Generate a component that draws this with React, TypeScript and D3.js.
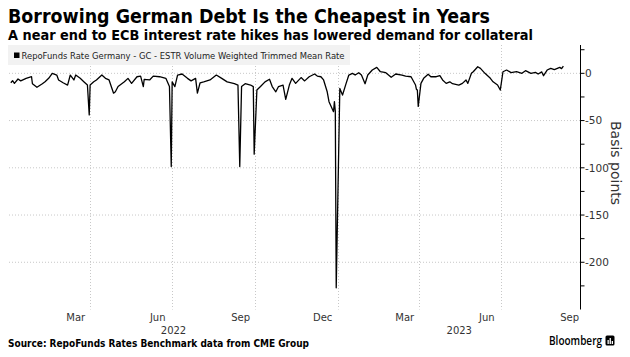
import React from 'react';
import * as d3 from 'd3';

const dates: string[] = [
  '2022-01-03','2022-01-05','2022-01-07','2022-01-11','2022-01-14','2022-01-20','2022-01-26','2022-01-27',
  '2022-02-01','2022-02-07','2022-02-10','2022-02-14','2022-02-18','2022-02-23','2022-02-25',
  '2022-03-02','2022-03-07','2022-03-10','2022-03-14','2022-03-16','2022-03-21','2022-03-25','2022-03-29','2022-03-31',
  '2022-04-01','2022-04-05','2022-04-08','2022-04-14','2022-04-18','2022-04-22','2022-04-27','2022-04-29',
  '2022-05-02','2022-05-09','2022-05-13','2022-05-17','2022-05-23','2022-05-27','2022-05-30','2022-05-31',
  '2022-06-06','2022-06-10','2022-06-17','2022-06-24','2022-06-28','2022-06-30',
  '2022-07-01','2022-07-04','2022-07-07','2022-07-12','2022-07-18','2022-07-22','2022-07-27','2022-07-29',
  '2022-08-01','2022-08-05','2022-08-12','2022-08-19','2022-08-25','2022-08-31',
  '2022-09-08','2022-09-12','2022-09-14','2022-09-16','2022-09-20','2022-09-26','2022-09-29','2022-09-30',
  '2022-10-03','2022-10-07','2022-10-12','2022-10-17','2022-10-20','2022-10-24','2022-10-27',
  '2022-11-01','2022-11-04','2022-11-08','2022-11-11','2022-11-15','2022-11-21','2022-11-25','2022-11-30',
  '2022-12-06','2022-12-09','2022-12-13','2022-12-16','2022-12-20','2022-12-22','2022-12-27','2022-12-28','2022-12-29','2022-12-30',
  '2023-01-03','2023-01-06','2023-01-10','2023-01-13','2023-01-17','2023-01-20','2023-01-24','2023-01-27','2023-01-31',
  '2023-02-03','2023-02-08','2023-02-13','2023-02-17','2023-02-23',
  '2023-03-01','2023-03-06','2023-03-13','2023-03-17','2023-03-23','2023-03-28','2023-03-29','2023-03-30','2023-03-31',
  '2023-04-03','2023-04-06','2023-04-11','2023-04-14','2023-04-20','2023-04-24','2023-04-27',
  '2023-05-01','2023-05-05','2023-05-08','2023-05-15','2023-05-19','2023-05-23','2023-05-25','2023-05-29','2023-05-31',
  '2023-06-05','2023-06-08','2023-06-13','2023-06-19','2023-06-22','2023-06-27','2023-06-30',
  '2023-07-03','2023-07-07','2023-07-12','2023-07-18','2023-07-24','2023-07-28',
  '2023-08-03','2023-08-08','2023-08-11','2023-08-15','2023-08-17','2023-08-21','2023-08-25','2023-08-29',
  '2023-09-04','2023-09-06','2023-09-08',
];

const values: number[] = [
  -10, -7.8, -10.6, -6, -8, -5.3, -3.6, -11,
  -14.8, -11, -8.9, -5.3, 0, -1.8, -7,
  -10, -12.4, -1.8, -7, -1.8, -5.3, -8.9, -12.4, -44,
  -12.4, -9, -7, -1.8, -5.3, -7, -21, -19.5,
  -14, -9, -5.3, -10.6, -3.6, -3, -14, -6.3,
  -7, -2.9, -3.6, -5.3, -14, -98.7,
  -9, -14, -1.8, -0.7, -5.3, -8, -5.3, -21,
  -10, -9, -7, -1.8, -5.3, -9,
  -11, -12.4, -98.7, -14, -11, -12.4, -14, -85.6,
  -17.7, -14, -9, -6.3, -14, -19.5, -14,
  -12.4, -27.5, -12.4, -5.3, -10.6, -4.5, -8, -3.6,
  -0.7, -2.9, -3.6, -7, -19.5, -30, -40.6, -30, -40, -227,
  -16, -23, -10.6, -1.8, 0, -1.8, 0.7, -1.8, -11,
  -1.8, 3.5, 6.3, 1.7, 0.7,
  -4.2, -0.7, -1.8, -2.9, -3.6, -12.4, -17, -17.7, -35,
  -10.6, -5.3, -1, -3.6, -3.6, -2.5, -7,
  -10.6, -9, -11, -12.4, -10.6, -7, -10.6, 0, 1.7,
  7, 5.3, 0, -5.3, -9, -12.4, -17.7,
  1.7, 3.5, 0.7, 1.7, 0, 2.8,
  0, 1, -0.7, 1.5, -2.5, 3.5, 5.3, 4,
  6.3, 5, 7.7,
];

const yMinorTicks: number[] = [25, 0, -25, -50, -75, -100, -125, -150, -175, -200, -225];
const yLabelTicks: number[] = [0, -50, -100, -150, -200];
const gridDates: string[] = ['2022-04-01', '2022-07-01', '2022-10-01', '2023-01-01', '2023-04-01', '2023-07-01'];
const monthLabelDates: string[] = ['2022-03-16', '2022-06-15', '2022-09-15', '2022-12-15', '2023-03-16', '2023-06-15', '2023-09-15'];
const monthLabels: string[] = ['Mar', 'Jun', 'Sep', 'Dec', 'Mar', 'Jun', 'Sep'];
const yearLabels: string[] = ['2022', '2023'];
const yearBounds: string[][] = [['2022-01-01', '2023-01-01'], ['2023-01-01', '2023-09-27']];

const title = 'Borrowing German Debt Is the Cheapest in Years';
const subtitle = 'A near end to ECB interest rate hikes has lowered demand for collateral';
const legendLabel = 'RepoFunds Rate Germany - GC - ESTR Volume Weighted Trimmed Mean Rate';
const source = 'Source: RepoFunds Rates Benchmark data from CME Group';

const parse = (s: string) => new Date(s + 'T00:00:00Z');

export default function App() {
  const W = 630, H = 357;
  const x = d3.scaleUtc().domain([parse('2022-01-01'), parse('2023-09-27')]).range([9, 580.5]);
  const y = d3.scaleLinear().domain([-250, 30]).range([309.5, 45]);
  const axisX = 580.5;
  const pts = dates.map((d, i) => ({ d: parse(d), v: values[i] }));
  const line = d3.line<{ d: Date; v: number }>().x(p => x(p.d)).y(p => y(p.v));
  const tickFont = "'DejaVu Sans', sans-serif";
  const txt = '#333';

  return (
    <svg width={W} height={H} style={{ position: 'absolute', left: 0, top: 0, background: '#fff' }}
      xmlns="http://www.w3.org/2000/svg">
      <rect x={0} y={0} width={W} height={H} fill="#fff" />
      <text x={8} y={23} fontFamily="'DejaVu Sans Condensed', 'DejaVu Sans', sans-serif" fontWeight="bold"
        fontSize={19.5} fill="#000" textLength={482} lengthAdjust="spacingAndGlyphs">{title}</text>
      <text x={8} y={40} fontFamily="'DejaVu Sans Condensed', 'DejaVu Sans', sans-serif" fontWeight="bold"
        fontSize={14.5} fill="#000" textLength={525} lengthAdjust="spacingAndGlyphs">{subtitle}</text>

      {/* gridlines */}
      {yLabelTicks.map(t => (
        <line key={'hg' + t} x1={9} x2={axisX} y1={y(t)} y2={y(t)} stroke="#c8c8c8" strokeWidth={1}
          strokeDasharray="1,2" />
      ))}
      {gridDates.map(g => (
        <line key={'vg' + g} x1={Math.round(x(parse(g))) + 0.5} x2={Math.round(x(parse(g))) + 0.5} y1={45} y2={309.5}
          stroke="#c8c8c8" strokeWidth={1} strokeDasharray="1,2" />
      ))}

      {/* legend */}
      <rect x={8} y={45} width={342} height={20} fill="#f2f2f2" />
      <rect x={14} y={52.5} width={5.5} height={5.5} fill="#000" />
      <text x={21.5} y={58.5} fontFamily={tickFont} fontSize={9} fill="#222" textLength={323}
        lengthAdjust="spacingAndGlyphs">{legendLabel}</text>

      {/* data line */}
      <path d={line(pts) || ''} fill="none" stroke="#000" strokeWidth={1.3} strokeLinejoin="round" />

      {/* y axis */}
      <line x1={axisX} x2={axisX} y1={45} y2={309.5} stroke="#000" strokeWidth={1} />
      {yMinorTicks.map(t => (
        <line key={'yt' + t} x1={axisX} x2={axisX + 4} y1={y(t)} y2={y(t)} stroke="#000" strokeWidth={1} />
      ))}
      {yLabelTicks.map(t => (
        <text key={'yl' + t} x={axisX + 4.5} y={y(t) + 3.8} fontFamily={tickFont} fontSize={10.5} fill={txt}>
          {t < 0 ? '-' + Math.abs(t) : String(t)}
        </text>
      ))}
      <text transform={`translate(${611},${163}) rotate(90)`} textAnchor="middle" fontFamily={tickFont}
        fontSize={14} fill={txt}>Basis points</text>

      {/* x axis labels */}
      {monthLabelDates.map((m, i) => (
        <text key={'ml' + i} x={x(parse(m))} y={321} textAnchor="middle" fontFamily={tickFont} fontSize={10}
          fill={txt}>{monthLabels[i]}</text>
      ))}
      {yearLabels.map((yl, i) => (
        <text key={'yr' + yl} x={(x(parse(yearBounds[i][0])) + x(parse(yearBounds[i][1]))) / 2} y={333.5}
          textAnchor="middle" fontFamily={tickFont} fontSize={10} fill={txt}>{yl}</text>
      ))}

      {/* footer */}
      <text x={8} y={347} fontFamily="'DejaVu Sans Condensed', 'DejaVu Sans', sans-serif" fontWeight="bold"
        fontSize={10} fill="#000" textLength={301} lengthAdjust="spacingAndGlyphs">{source}</text>
      <text x={549} y={345} fontFamily="'Open Sans', 'DejaVu Sans', sans-serif" fontWeight={600} fontSize={12.5}
        fill="#000" textLength={53} lengthAdjust="spacingAndGlyphs">Bloomberg</text>
      <rect x={605.5} y={335.5} width={9} height={10} rx={1.5} fill="#000" />
      <rect x={607.5} y={340} width={1.3} height={4} fill="#fff" />
      <rect x={609.6} y={338} width={1.3} height={6} fill="#fff" />
      <rect x={611.7} y={341} width={1.3} height={3} fill="#fff" />
    </svg>
  );
}
